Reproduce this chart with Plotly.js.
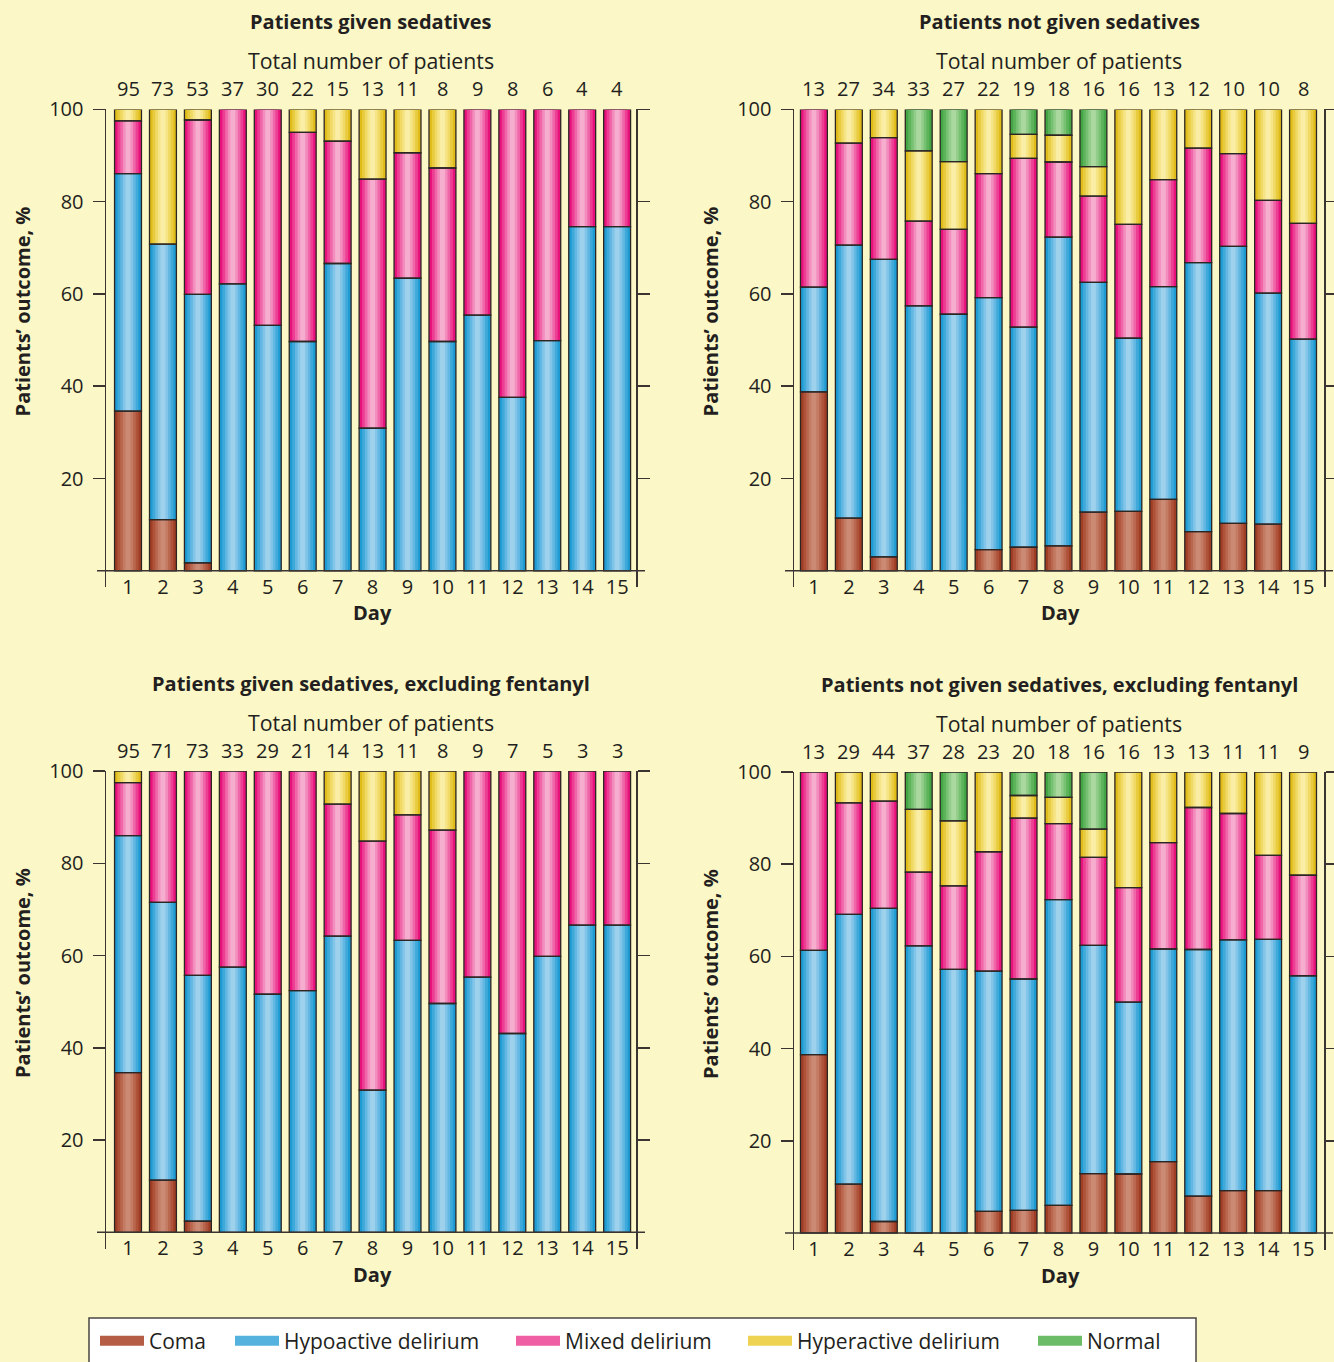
<!DOCTYPE html>
<html>
<head>
<meta charset="utf-8">
<script src="https://cdn.plot.ly/plotly-3.0.1.min.js"></script>
<style>
html,body{margin:0;padding:0;background:#FBF7C6;}
#chart{width:1334px;height:1362px;}
</style>
</head>
<body>
<div id="chart"></div>
<script>
// ---------- DATA ----------
const days = [1,2,3,4,5,6,7,8,9,10,11,12,13,14,15];
const seriesNames = ['Coma','Hypoactive delirium','Mixed delirium','Hyperactive delirium','Normal'];

// Panel A: Patients given sedatives
const totalsA = [95,73,53,37,30,22,15,13,11,8,9,8,6,4,4];
const comaA   = [34.6,11.1,1.7,0,0,0,0,0,0,0,0,0,0,0,0];
const hypoA   = [51.5,59.7,58.2,62.2,53.2,49.7,66.6,30.9,63.4,49.7,55.4,37.6,49.9,74.6,74.6];
const mixedA  = [11.4,0,37.8,37.8,46.8,45.3,26.5,54.0,27.2,37.6,44.6,62.4,50.1,25.4,25.4];
const hyperA  = [2.5,29.2,2.3,0,0,5.0,6.9,15.1,9.4,12.7,0,0,0,0,0];
const normalA = [0,0,0,0,0,0,0,0,0,0,0,0,0,0,0];

// Panel B: Patients not given sedatives
const totalsB = [13,27,34,33,27,22,19,18,16,16,13,12,10,10,8];
const comaB   = [38.8,11.4,3.0,0,0,4.6,5.1,5.4,12.7,12.9,15.5,8.5,10.3,10.1,0];
const hypoB   = [22.7,59.2,64.5,57.4,55.6,54.6,47.7,66.9,49.8,37.5,46.1,58.3,60.0,50.1,50.2];
const mixedB  = [38.5,22.1,26.4,18.4,18.4,26.9,36.6,16.3,18.7,24.7,23.2,24.8,20.1,20.1,25.1];
const hyperB  = [0,7.3,6.1,15.2,14.7,13.9,5.2,5.8,6.4,24.9,15.2,8.4,9.6,19.7,24.7];
const normalB = [0,0,0,9.0,11.3,0,5.4,5.6,12.4,0,0,0,0,0,0];

// Panel C: Patients given sedatives, excluding fentanyl
const totalsC = [95,71,73,33,29,21,14,13,11,8,9,7,5,3,3];
const comaC   = [34.6,11.3,2.4,0,0,0,0,0,0,0,0,0,0,0,0];
const hypoC   = [51.4,60.2,53.3,57.5,51.6,52.4,64.2,30.8,63.3,49.6,55.3,43.1,59.8,66.6,66.6];
const mixedC  = [11.5,28.5,44.3,42.5,48.4,47.6,28.6,54.0,27.2,37.6,44.7,56.9,40.2,33.4,33.4];
const hyperC  = [2.5,0,0,0,0,0,7.2,15.2,9.5,12.8,0,0,0,0,0];
const normalC = [0,0,0,0,0,0,0,0,0,0,0,0,0,0,0];

// Panel D: Patients not given sedatives, excluding fentanyl
const totalsD = [13,29,44,37,28,23,20,18,16,16,13,13,11,11,9];
const comaD   = [38.7,10.6,2.5,0,0,4.7,4.9,6.0,12.9,12.8,15.5,8.0,9.2,9.2,0];
const hypoD   = [22.6,58.5,67.9,62.3,57.2,52.1,50.2,66.3,49.5,37.3,46.1,53.5,54.4,54.5,55.8];
const mixedD  = [38.7,24.2,23.3,16.0,18.1,25.9,34.9,16.5,19.1,24.8,23.1,30.8,27.4,18.2,21.8];
const hyperD  = [0,6.7,6.3,13.6,14.1,17.3,4.9,5.7,6.1,25.1,15.3,7.7,9.0,18.1,22.4];
const normalD = [0,0,0,8.1,10.6,0,5.1,5.5,12.4,0,0,0,0,0,0];

const panelTitles = ['Patients given sedatives','Patients not given sedatives',
  'Patients given sedatives, excluding fentanyl','Patients not given sedatives, excluding fentanyl'];
const yTickVals = [20,40,60,80,100];

// ---------- STYLE ----------
const W = 1334, H = 1362;
const TXT = '#231F20';
const FONT = '"Open Sans", "Noto Sans", sans-serif';
const gradients = [
  ['#A03E25','#AE523A','#BA6750','#C47B64','#CB8A74'],
  ['#1E9BD2','#3FA9DA','#62B8E2','#82C5E8','#9ED1EC'],
  ['#E8127C','#EC3E93','#F067A9','#F38DBE','#F6AECF'],
  ['#E0BC1A','#E8CB3E','#F0D964','#F6E587','#FAEEA6'],
  ['#43A544','#5CB35A','#77C172','#92CD8B','#AAD89F']
];
const legendColors = ['#B55E45','#55B2DE','#EE5FA3','#EDD351','#6CBB66'];
const legendX = [95,230,511,743,1033];
const layerWidths = [0.77,0.60,0.44,0.29,0.14];

const panels = [
  {vals:[comaA,hypoA,mixedA,hyperA,normalA], totals:totalsA, xs:'x',  ys:'y',  px:[106,636],  top:109.4, zero:570.8, range:[0.37,15.54], tx:371},
  {vals:[comaB,hypoB,mixedB,hyperB,normalB], totals:totalsB, xs:'x2', ys:'y2', px:[794,1324], top:109.4, zero:570.8, range:[0.43,15.60], tx:1059},
  {vals:[comaC,hypoC,mixedC,hyperC,normalC], totals:totalsC, xs:'x3', ys:'y3', px:[106,636],  top:771.0, zero:1232.3, range:[0.37,15.54], tx:371},
  {vals:[comaD,hypoD,mixedD,hyperD,normalD], totals:totalsD, xs:'x4', ys:'y4', px:[794,1324], top:772.0, zero:1233.0, range:[0.43,15.60], tx:1059}
];
const YMIN = -3.6;

const traces = [];
const outlines = [];
const layout = {
  width: W, height: H,
  margin: {l:0, r:0, t:0, b:0},
  paper_bgcolor: '#FBF7C6', plot_bgcolor: 'rgba(0,0,0,0)',
  barmode: 'overlay',
  showlegend: true,
  font: {family: FONT, color: TXT, size: 20},
  annotations: [], shapes: []
};

panels.forEach((p, pi) => {
  const bases = [];
  let running = days.map(() => 0);
  p.vals.forEach((arr) => {
    bases.push(running.slice());
    running = running.map((r, i) => r + arr[i]);
  });
  p.vals.forEach((arr, si) => {
    layerWidths.forEach((w, li) => {
      traces.push({
        type:'bar', x: days, y: arr.map(v => v > 0 ? v : null), base: bases[si],
        width: w, marker:{color: gradients[si][li], line:{width:0}},
        xaxis: p.xs, yaxis: p.ys, showlegend:false, hoverinfo:'skip'
      });
    });
    outlines.push({
      type:'bar', x: days, y: arr.map(v => v > 0 ? v : null), base: bases[si],
      width: layerWidths[0], marker:{color:'rgba(0,0,0,0)', line:{width:1.3, color:'#2B2523'}},
      xaxis: p.xs, yaxis: p.ys, showlegend:false, hoverinfo:'skip'
    });
  });

  const idx = pi === 0 ? '' : String(pi+1);
  const scale = (p.zero - p.top) / 100;
  const bottomPx = p.zero - YMIN * scale;
  layout['xaxis'+idx] = {
    domain:[p.px[0]/W, p.px[1]/W], range:p.range, anchor:'free', position: 1 - (p.zero+2)/H,
    tickmode:'array', tickvals: days, ticktext: days.map(String),
    ticks:'', showline:false, showgrid:false, zeroline:false,
    tickfont:{size:20, color:TXT, family:FONT}, fixedrange:true
  };
  layout['yaxis'+idx] = {
    domain:[1 - bottomPx/H, 1 - p.top/H], range:[YMIN,100], anchor: p.xs,
    tickmode:'array', tickvals: yTickVals, ticktext: yTickVals.map(String),
    ticks:'outside', ticklen:12, tickwidth:1.5, tickcolor:'#3A3533', ticklabelstandoff:5,
    showline:true, linecolor:'#3A3533', linewidth:1.5, mirror:'ticks',
    showgrid:false, zeroline:false, tickfont:{size:20, color:TXT, family:FONT}, fixedrange:true
  };
  layout.shapes.push({type:'line', xref:'paper', yref:p.ys, x0:(p.px[0]-9)/W, x1:Math.min(p.px[1]+9, W)/W, y0:0, y1:0,
                      line:{color:'#3A3533', width:1.5}});
  days.forEach((d, i) => {
    layout.annotations.push({xref:p.xs, yref:p.ys, x:d, y:100, xanchor:'center', yanchor:'bottom', yshift:5,
      text:String(p.totals[i]), showarrow:false, font:{size:20, color:TXT, family:FONT}});
  });
  const titleY = p.top - 88;
  layout.annotations.push({xref:'paper', yref:'paper', x:p.tx/W, y:1-titleY/H, xanchor:'center', yanchor:'middle',
    text:'<b>'+panelTitles[pi]+'</b>', showarrow:false, font:{size:20, color:TXT, family:FONT}});
  layout.annotations.push({xref:'paper', yref:'paper', x:p.tx/W, y:1-(p.top-49)/H, xanchor:'center', yanchor:'middle',
    text:'Total number of patients', showarrow:false, font:{size:21.3, color:TXT, family:FONT}});
  layout.annotations.push({xref:'paper', yref:'paper', x:(p.tx+1)/W, y:1-(p.zero+42)/H, xanchor:'center', yanchor:'middle',
    text:'<b>Day</b>', showarrow:false, font:{size:20, color:TXT, family:FONT}});
  layout.annotations.push({xref:'paper', yref:'paper', x:(p.px[0]-84)/W, y:1-(p.top+202)/H, yanchor:'middle', xanchor:'center',
    text:'<b>Patients\u2019 outcome, %</b>', textangle:-90, showarrow:false, font:{size:20, color:TXT, family:FONT}});
});

// legend entries, one small legend per entry so they sit where the reference puts them
seriesNames.forEach((n, si) => {
  const lname = si === 0 ? 'legend' : 'legend' + (si+1);
  traces.push({type:'scatter', mode:'lines', x:[null], y:[null], name:n, legend:lname,
    line:{color:legendColors[si], width:10}, showlegend:true, hoverinfo:'skip'});
  layout[lname] = {orientation:'h', x: legendX[si]/W, xanchor:'left', y: 1-1341/H, yanchor:'middle',
    bgcolor:'rgba(0,0,0,0)', font:{size:21, family:FONT, color:TXT}, itemwidth:44};
});

layout.shapes.push({type:'rect', xref:'paper', yref:'paper', x0:89/W, x1:1196/W, y0:-0.01, y1:1-1318/H,
  fillcolor:'#FFFFFF', line:{color:'#4A4543', width:1.5}, layer:'below'});

Plotly.newPlot('chart', traces.concat(outlines), layout, {displayModeBar:false, staticPlot:true});
</script>
</body>
</html>
